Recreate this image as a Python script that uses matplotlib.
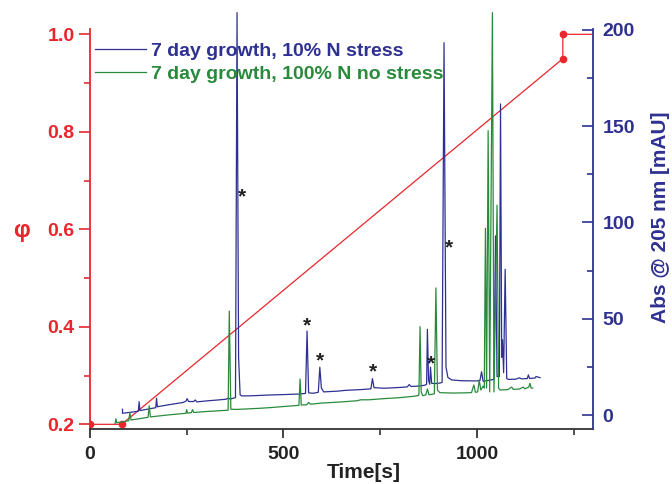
import numpy as np
import matplotlib
matplotlib.use('Agg')
import matplotlib.pyplot as plt
from matplotlib.ticker import MultipleLocator

plt.rcParams['font.family'] = ['Liberation Sans', 'DejaVu Sans']
plt.rcParams['font.weight'] = 'bold'

RED = '#e8262b'
NAVY = '#2e3192'
GREEN = '#2a8a3c'

# gradient programme (phi vs time)
grad_t = [0, 82, 1222, 1222, 1300]
grad_phi = [0.2, 0.2, 0.95, 1.0, 1.0]

# chromatogram, 10% N stress (time [s], mAU)
blue_t = [84, 84, 120, 125, 127, 129, 170, 172, 174, 200, 240, 248, 251, 255, 268, 272, 276,
          300, 330, 352, 357, 362, 376, 380, 384, 388, 392, 420, 465, 500, 540, 557, 561, 565,
          577, 590, 594, 598, 604, 640, 660, 700, 726, 730, 734, 760, 800, 820, 825, 830, 853,
          866, 870, 872, 875, 878, 880, 883, 890, 905, 910, 915, 920, 925, 935, 960, 1000, 1008,
          1012, 1016, 1030, 1044, 1048, 1052, 1058, 1061, 1064, 1066, 1069, 1073, 1077, 1081,
          1100, 1110, 1115, 1130, 1133, 1136, 1150, 1153, 1163]
blue_v = [3.0, 0.9, 1.8, 2.0, 6.9, 2.3, 3.8, 8.7, 4.3, 5.2, 6.5, 7.2, 8.5, 7.0, 7.0, 7.8, 6.8,
          7.3, 7.8, 8.2, 8.8, 8.3, 9.0, 209, 30, 10.5, 9.9, 10.0, 10.4, 10.6, 10.9, 11.2, 43.6, 11.5,
          11.3, 11.8, 24.8, 14.0, 12.0, 12.4, 12.8, 13.2, 13.6, 18.9, 14.2, 13.9, 14.3, 14.6, 15.8, 14.8, 15.1,
          15.5, 16.0, 44.5, 18.0, 16.0, 24.8, 16.5, 16.3, 16.6, 17.0, 193.4, 25.0, 19.5, 18.2, 17.8, 17.7, 18.0,
          22.5, 17.5, 18.0, 18.5, 93.0, 20.0, 20.0, 161.6, 30.0, 39.0, 22.0, 75.7, 19.0, 18.5,
          18.6, 19.3, 18.8, 18.9, 20.8, 19.0, 19.2, 20.0, 19.4]

# chromatogram, 100% N no stress
green_t = [65, 67, 69, 100, 103, 106, 150, 153, 156, 200, 248, 250, 252, 262, 265, 268, 300,
           357, 360, 364, 380, 440, 470, 500, 540, 543, 546, 560, 565, 570, 600, 650, 690, 700,
           720, 760, 800, 840, 850, 853, 856, 860, 868, 872, 876, 890, 894, 898, 904, 940, 986,
           992, 996, 1002, 1006, 1010, 1016, 1019, 1022, 1025, 1029, 1033, 1040, 1044, 1052, 1056,
           1060, 1080, 1090, 1094, 1110, 1120, 1124, 1134, 1137, 1140, 1144]
green_v = [-4.3, -2.0, -4.0, -3.0, 1.2, -2.6, -1.2, 4.8, -1.0, 0.0, 0.9, 2.8, 1.0, 1.2, 2.8, 1.3, 1.8,
           2.5, 54.0, 3.0, 2.9, 3.5, 3.9, 4.4, 5.0, 18.7, 5.2, 5.3, 6.5, 5.6, 6.2, 6.8, 7.4, 7.9,
           7.9, 8.5, 9.0, 9.8, 10.2, 45.9, 12.0, 10.0, 10.5, 13.5, 10.5, 11.0, 66.0, 13.0, 11.6, 11.4, 11.6,
           15.6, 11.8, 12.0, 18.2, 13.0, 15.0, 14.0, 97.0, 14.0, 147.7, 12.0, 209, 12.0, 109.0, 14.0,
           13.0, 13.2, 14.5, 13.3, 13.5, 14.5, 13.6, 14.5, 16.5, 14.0, 14.0]

# peaks marked with an asterisk (time, mAU)
star_t = [394, 561, 594, 732, 881, 928]
star_v = [113.4, 46.2, 28.0, 22.3, 26.8, 86.6]

labels = ['7 day growth, 10% N stress', '7 day growth, 100% N no stress']

fig = plt.figure(figsize=(6.72, 4.84), dpi=100)
ax = fig.add_axes([90/672, 1-429/484, 503/672, 400/484])
ax2 = ax.twinx()

ax.plot(grad_t, grad_phi, color=RED, lw=0.9, marker='o', ms=4.5, markevery=[0, 1, 2, 3])
ax.set_xlim(0, 1300)
ax.set_ylim(0.1904, 1.0109)

ax2.plot(blue_t, blue_v, color=NAVY, lw=0.9, clip_on=False, label=labels[0])
ax2.plot(green_t, green_v, color=GREEN, lw=0.9, clip_on=False, label=labels[1])
ax2.set_ylim(-7.27, 200.5)
for t, v in zip(star_t, star_v):
    ax2.text(t, v, '*', ha='center', va='center', fontsize=15, color='#222222')

# axes styling
ax.spines['top'].set_visible(False)
ax.spines['right'].set_visible(False)
ax.spines['left'].set_color(RED)
ax.spines['bottom'].set_color('#333333')
for s in ['top', 'left', 'bottom']:
    ax2.spines[s].set_visible(False)
ax2.spines['right'].set_color(NAVY)
for s in ax.spines.values():
    s.set_linewidth(1.3)
ax2.spines['right'].set_linewidth(1.3)

ax.xaxis.set_major_locator(MultipleLocator(500))
ax.xaxis.set_minor_locator(MultipleLocator(250))
ax.yaxis.set_major_locator(MultipleLocator(0.2))
ax.yaxis.set_minor_locator(MultipleLocator(0.1))
ax2.yaxis.set_major_locator(MultipleLocator(50))
ax2.yaxis.set_minor_locator(MultipleLocator(25))
ax.yaxis.set_major_formatter(plt.FormatStrFormatter('%.1f'))

ax.tick_params(axis='x', which='major', direction='out', length=6.5, width=1.2, pad=6,
               labelsize=14, colors='#222222')
ax.tick_params(axis='x', which='minor', direction='out', length=4, width=1.2, colors='#333333')
ax.tick_params(axis='y', which='major', direction='out', length=8, width=1.2, pad=3,
               labelsize=14, colors=RED)
ax.tick_params(axis='y', which='minor', direction='out', length=4, width=1.2, colors=RED)
ax2.tick_params(axis='y', which='major', direction='in', length=8, width=1.2, pad=7,
                labelsize=14, colors=NAVY)
ax2.tick_params(axis='y', which='minor', direction='in', length=4, width=1.2, colors=NAVY)

fig.text(22/672, 1-230/484, 'φ', color=RED, fontsize=17, ha='center', va='center')
fig.text(661/672, 1-217/484, 'Abs @ 205 nm [mAU]', color=NAVY, fontsize=15, rotation=90,
         ha='center', va='center')
fig.text(364/672, 1-472/484, 'Time[s]', color='#222222', fontsize=15, ha='center', va='center')

ax2.legend(loc='upper left', bbox_to_anchor=(95/672, 1-42/484), bbox_transform=fig.transFigure,
           frameon=False, fontsize=14, handlelength=2.6, handletextpad=0.3, labelspacing=0.3,
           borderpad=0, borderaxespad=0, labelcolor='linecolor')

fig.savefig('out.png', dpi=100)
